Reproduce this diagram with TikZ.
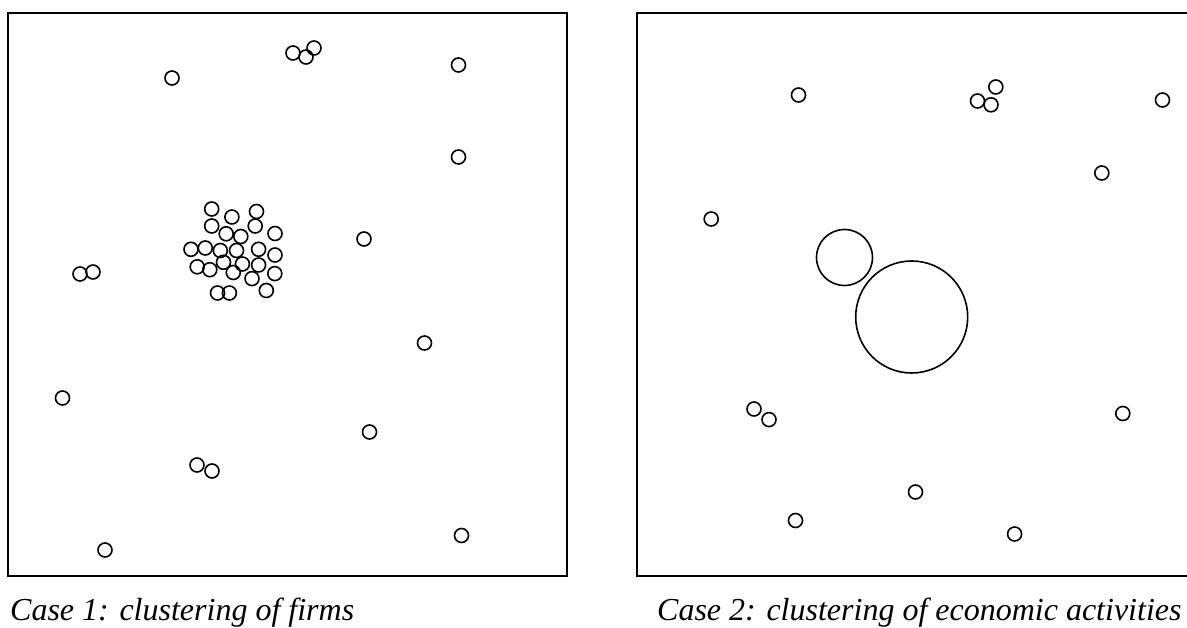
\documentclass[tikz,border=0pt]{standalone}
\usepackage{fontspec}
\setmainfont{Liberation Serif}
\begin{document}
\begin{tikzpicture}[x=1pt,y=-1pt,
  frame/.style={line width=2pt},
  dot/.style={line width=1.6pt},
  bigc/.style={line width=1.6pt},
  caption/.style={anchor=base west,inner sep=0pt,font=\fontsize{32}{36}\selectfont\itshape}]
\useasboundingbox (0,0) rectangle (1187,628);
% Case 1 panel
\draw[frame] (8,13) rectangle (567,576);
\foreach \x/\y in {172/78, 293/53, 306/57, 314/48, 458.5/65, 458.5/157, 364/239,
  80/274, 93/272, 424.5/343, 62.5/398, 369.5/432, 197/465, 212/471, 461.5/535.5, 105/550}
  \draw[dot] (\x,\y) circle (7);
% cluster
\foreach \x/\y in {211.7/209, 231.9/217, 256.5/211.5,
  211.7/226, 255.2/226, 275/233.5, 226.2/233.8, 240.8/236.5,
  191/249.3, 205.3/248, 220.3/250.5, 236.5/250.5, 258.6/249.3, 275/255,
  197.2/266.8, 209.8/269.7, 223.5/262.3, 233.3/272.5, 242.4/264, 258.6/265, 274.8/273.6, 252/278.6,
  217.5/293, 229.4/293, 266.3/290.5}
  \draw[dot] (\x,\y) circle (7);
\node[caption] (cap1) at (10,620) {Case 1: clustering of firms};
% Case 2 panel
\draw[frame] (1195,13) -- (636.5,13) -- (636.5,576) -- (1195,576);
\foreach \x/\y in {798.5/95, 977.5/101, 991/104.8, 995.8/87, 1162.5/100, 1101.8/173,
  711.2/219, 754/409, 769/419.6, 1122.8/413.5, 915.5/492, 795.5/520.5, 1014.6/534}
  \draw[dot] (\x,\y) circle (7);
\draw[bigc] (844.5,257.5) circle (28);
\draw[bigc] (911.7,317) circle (56);
\node[caption] (cap2) at (657,620) {Case 2: clustering of economic activities};
\end{tikzpicture}
\end{document}
